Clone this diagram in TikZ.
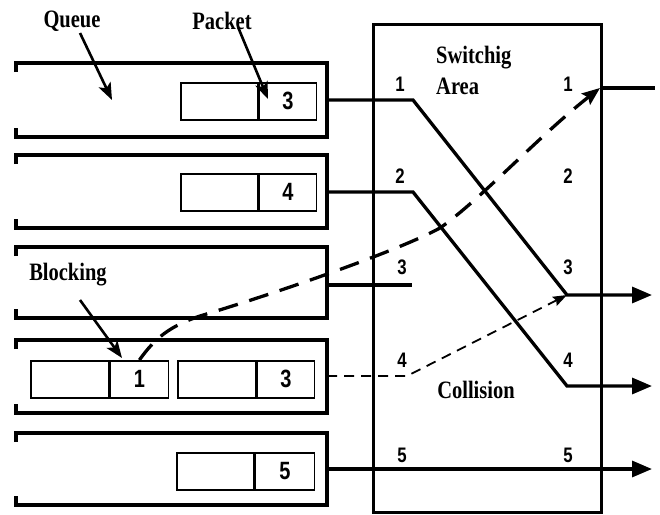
\documentclass[tikz,border=0pt]{standalone}
\usepackage{fontspec}
\setmainfont{Liberation Serif}
\newfontfamily\lblfont[FakeStretch=0.82]{Liberation Serif}
\newfontfamily\digfont[FakeStretch=0.8]{Liberation Sans}
\usetikzlibrary{arrows.meta}
\begin{document}
\begin{tikzpicture}[x=1pt,y=-1pt,
  thk/.style={line width=3.3pt},
  queue/.style={line width=3.3pt, line join=miter},
  cell/.style={draw, line width=1.6pt, minimum height=37pt, inner sep=0pt, anchor=north west,
    font=\digfont\bfseries\fontsize{25}{25}\selectfont},
  lbl/.style={font=\lblfont\bfseries\fontsize{25}{25}\selectfont, inner sep=0pt},
  portnum/.style={font=\digfont\bfseries\fontsize{21}{21}\selectfont, inner sep=0pt},
  bigarrow/.style={-{Triangle[length=20pt,width=16pt]}},
  lblarrow/.style={line width=2.6pt, -{Stealth[length=17pt,width=13pt,inset=4pt]}},
  longdash/.style={line width=3.3pt, dash pattern=on 20pt off 12pt, -{Stealth[length=18pt,width=14pt,inset=3pt]}},
  thindash/.style={line width=1.8pt, dash pattern=on 10pt off 7pt, -{Stealth[length=14pt,width=10pt,inset=2pt]}}
]
\useasboundingbox (0,0) rectangle (660,514);

% queues
\draw[queue] (16,72) -- (16,63) -- (327,63) -- (327,137) -- (16,137) -- (16,128);
\draw[queue] (16,164) -- (16,155) -- (327,155) -- (327,228) -- (16,228) -- (16,219);
\draw[queue] (16,256) -- (16,247) -- (327,247) -- (327,318) -- (16,318) -- (16,309);
\draw[queue] (16,349) -- (16,340) -- (327,340) -- (327,413) -- (16,413) -- (16,404);
\draw[queue] (16,442) -- (16,433) -- (327,433) -- (327,505) -- (16,505) -- (16,496);

% packets
\node[cell, minimum width=77pt] (p1l) at (180,82) {};
\node[cell, minimum width=57pt] (p1r) at (p1l.north east) {3};
\node[cell, minimum width=77pt] (p2l) at (180,173) {};
\node[cell, minimum width=57pt] (p2r) at (p2l.north east) {4};
\node[cell, minimum width=78pt] (p4al) at (30,360) {};
\node[cell, minimum width=58pt] (p4ar) at (p4al.north east) {1};
\node[cell, minimum width=78pt] (p4bl) at (177,360) {};
\node[cell, minimum width=57pt] (p4br) at (p4bl.north east) {3};
\node[cell, minimum width=77pt] (p5l) at (176,452) {};
\node[cell, minimum width=59pt] (p5r) at (p5l.north east) {5};

% switch
\node[draw, thk, minimum width=228pt, minimum height=488pt, inner sep=0pt, anchor=north west] (sw) at (372,23) {};

% labels
\node[lbl] (queue) at (72,21) {Queue};
\node[lbl] (packet) at (222,21) {Packet};
\node[lbl] (blocking) at (68,275) {Blocking};
\node[lbl, anchor=base west] (switchig) at (436,63) {Switchig};
\node[lbl, anchor=base west] (area) at (436,94) {Area};
\node[lbl] (collision) at (476,390) {Collision};

% port numbers
\node[portnum] (in1) at (400,84) {1};
\node[portnum] (in2) at (400,176) {2};
\node[portnum] (in3) at (402,267) {3};
\node[portnum] (in4) at (402,360) {4};
\node[portnum] (in5) at (402,455) {5};
\node[portnum] (out1) at (568,84) {1};
\node[portnum] (out2) at (568,176) {2};
\node[portnum] (out3) at (568,267) {3};
\node[portnum] (out4) at (568,360) {4};
\node[portnum] (out5) at (568,455) {5};

% connection points
\coordinate (a1) at (327,100); \coordinate (b1) at (413,100);
\coordinate (a2) at (327,192); \coordinate (b2) at (413,192);
\coordinate (a3) at (327,285); \coordinate (b3) at (412,285);
\coordinate (a4) at (327,376); \coordinate (b4) at (407,376);
\coordinate (a5) at (327,469);
\coordinate (o1) at (600,88);  \coordinate (e1) at (655,88);
\coordinate (o3) at (567,295); \coordinate (e3) at (652,295);
\coordinate (o4) at (567,386); \coordinate (e4) at (652,386);
\coordinate (e5) at (652,469);

\draw[thk, bigarrow] (a1) -- (b1) -- (o3) -- (e3);
\draw[thk, bigarrow] (a2) -- (b2) -- (o4) -- (e4);
\draw[thk] (a3) -- (b3);
\draw[thk, bigarrow] (a5) -- (e5);
\draw[thk] (o1) -- (e1);
\draw[thindash] (a4) -- (b4) -- (o3);

% blocked packet path
\draw[longdash] (p4ar.north) .. controls (155,338) and (170,326) .. (200,316)
   .. controls (280,292) and (400,250) .. (440,228)
   .. controls (480,200) and (540,135) .. (o1);

% label arrows
\coordinate (qs) at (80,33);   \coordinate (qt) at (112,100);
\coordinate (ps) at (238,27);  \coordinate (pt) at (268,99);
\coordinate (bs) at (80,300);  \coordinate (bt) at (122,358);
\draw[lblarrow] (qs) -- (qt);
\draw[lblarrow] (ps) -- (pt);
\draw[lblarrow] (bs) -- (bt);
\end{tikzpicture}
\end{document}
